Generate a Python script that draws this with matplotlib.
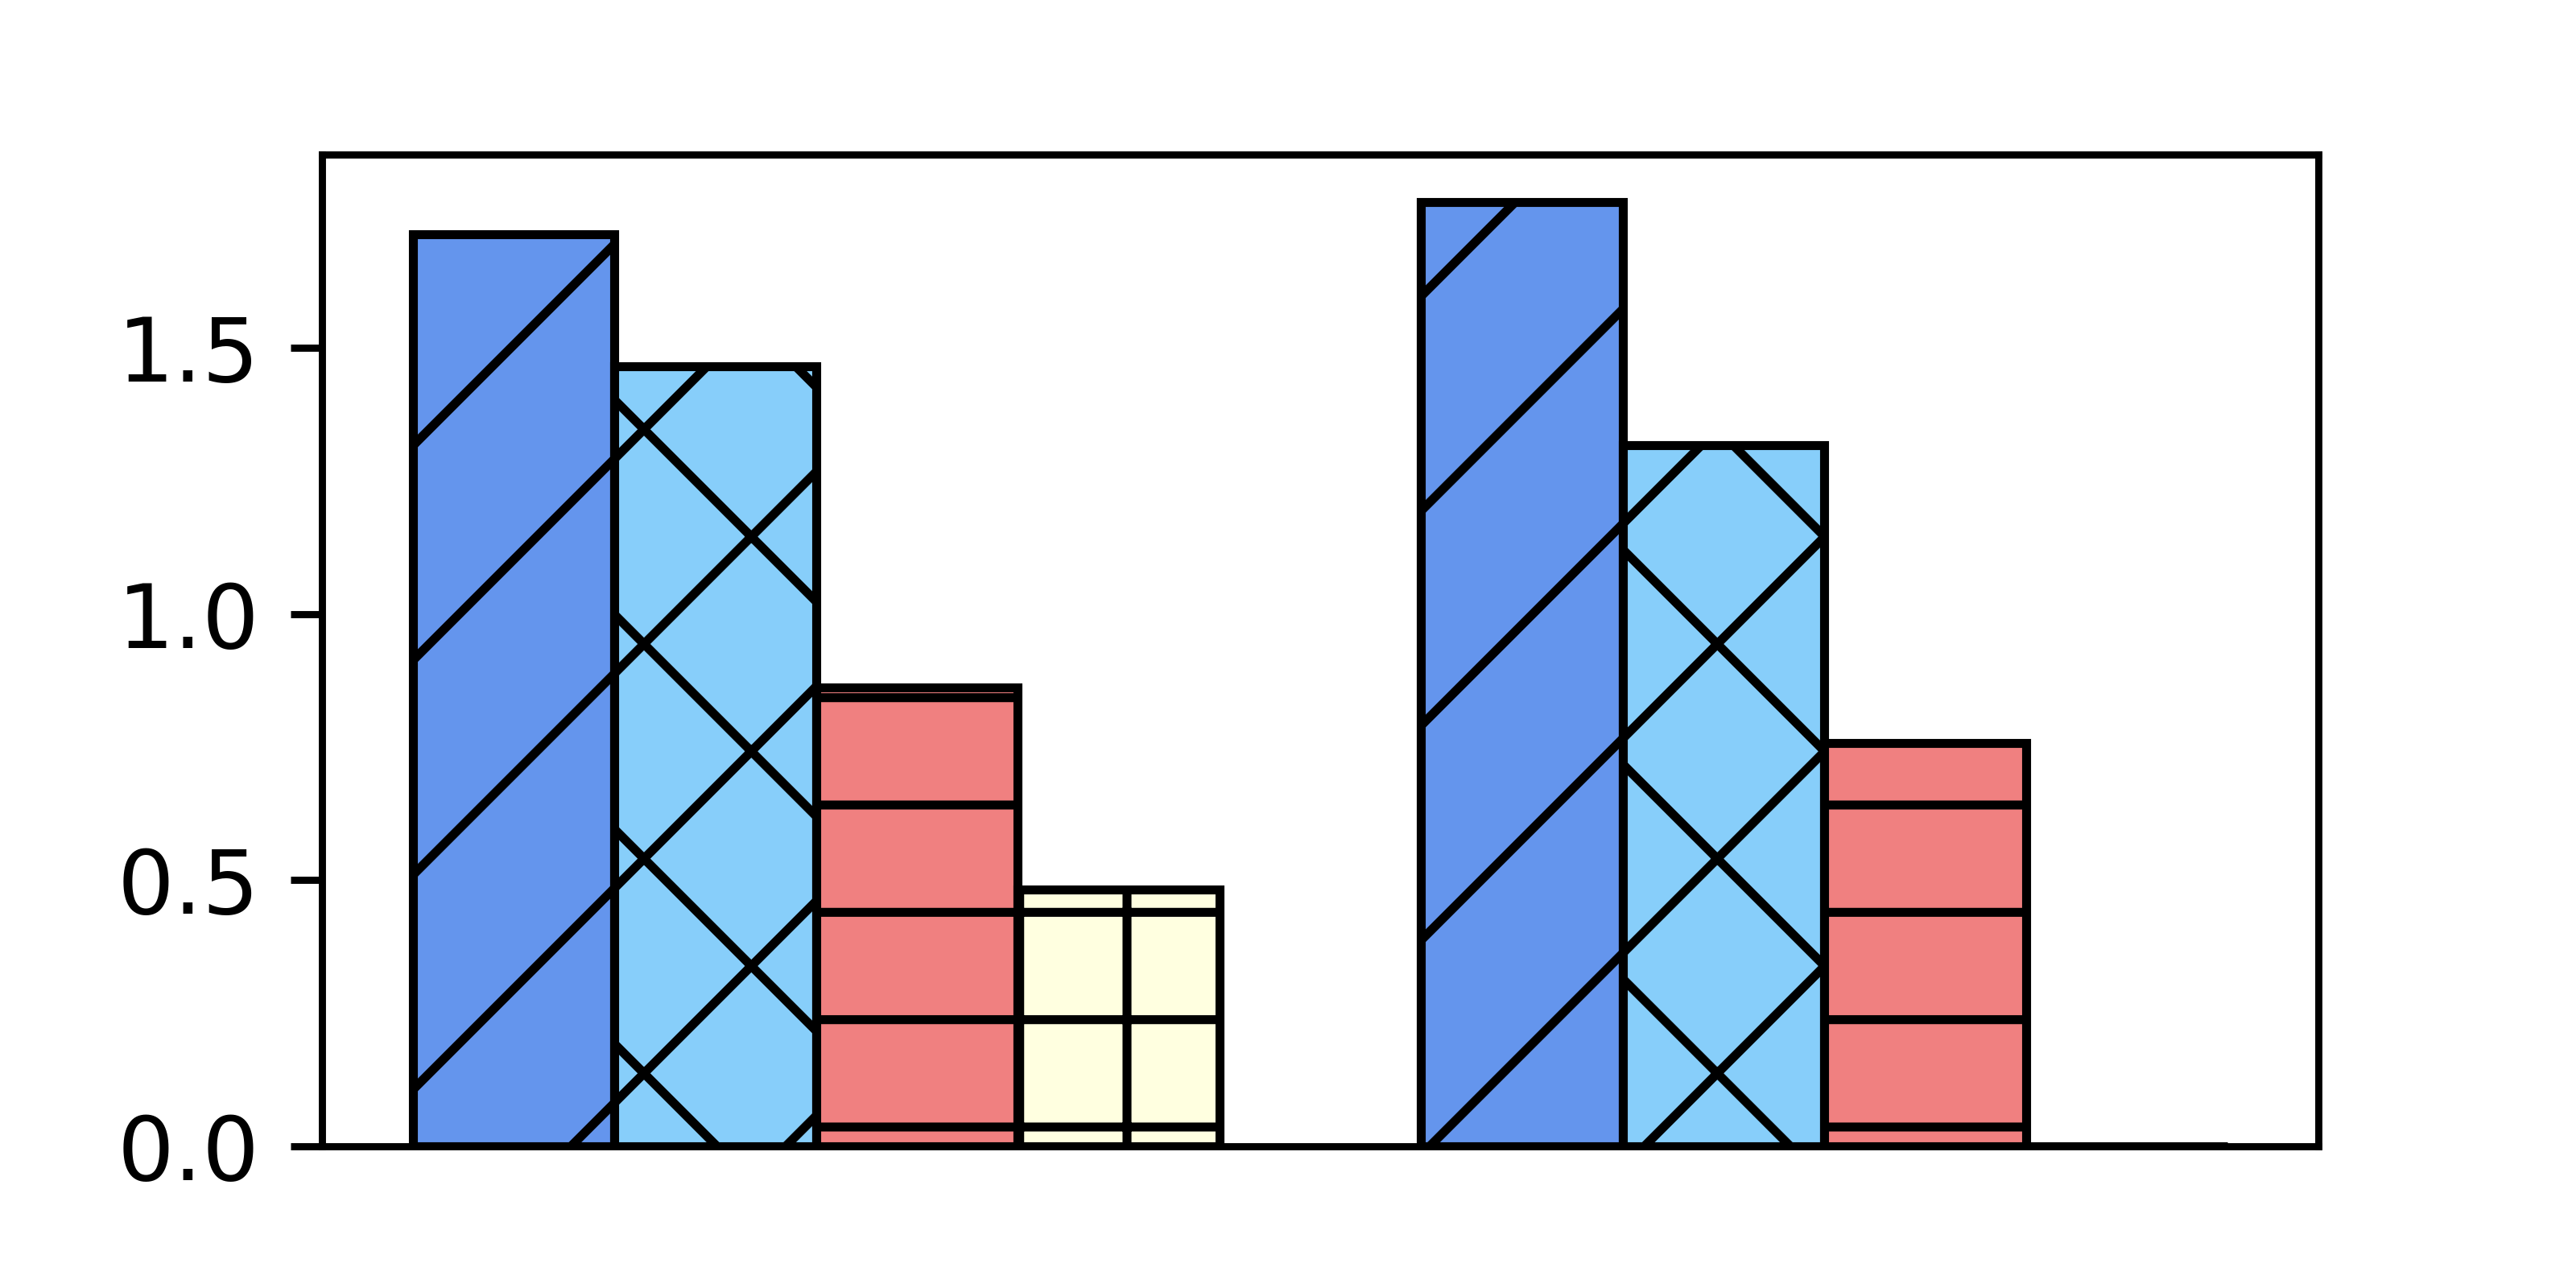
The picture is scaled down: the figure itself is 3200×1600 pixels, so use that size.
import numpy as np
import matplotlib
matplotlib.use('Agg')
import matplotlib.pyplot as plt

# bar heights, one list per series (two groups each)
series_a = [1.714, 1.775]
series_b = [1.466, 1.318]
series_c = [0.863, 0.758]
series_d = [0.482, 0.0]

colors = ['cornflowerblue', 'lightskyblue', 'lightcoral', 'lightyellow']
hatches = ['/', 'x', '-', '+']

fig = plt.figure(figsize=(4, 2), dpi=800)
ax = fig.add_subplot(111)

x = np.arange(2)
width = 0.2
for i, vals in enumerate([series_a, series_b, series_c, series_d]):
    ax.bar(x + i * width, vals, width, align='edge', color=colors[i],
           edgecolor='black', linewidth=1.0, hatch=hatches[i])

ax.set_xticks([])
ax.set_yticks([0.0, 0.5, 1.0, 1.5])

fig.savefig('out.png', dpi=800)
